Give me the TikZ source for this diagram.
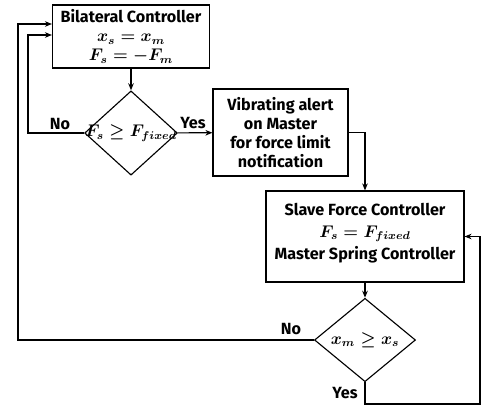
\documentclass[tikz,border=0pt]{standalone}
\usepackage{fontspec}
\setmainfont{Fira Sans}
\usetikzlibrary{shapes.geometric,arrows.meta}
\tikzset{
  block/.style={draw, thick, align=center, font=\bfseries\boldmath\fontsize{11.5}{13.5}\selectfont, inner sep=2pt},
  decision/.style={draw, thick, diamond, inner sep=0pt, font=\boldmath\fontsize{12}{14}\selectfont},
  arr/.style={thick, -{Stealth[length=5pt,width=4pt]}},
  lbl/.style={font=\bfseries\fontsize{11.5}{13.5}\selectfont}
}
\begin{document}
\begin{tikzpicture}[x=0.025cm, y=-0.025cm]
\useasboundingbox (0,0) rectangle (483,410);
% boxes
\node[block, minimum width=3.925cm, minimum height=1.575cm] (bil) at (131,36.5) {Bilateral Controller\\ $x_s=x_m$\\ $F_s=-F_m$};
\node[decision, inner xsep=-6pt, shape aspect=1.1, minimum width=2.225cm, minimum height=2cm] (d1) at (131,133) {$F_s\geq F_{fixed}$};
\node[block, minimum width=3.375cm, minimum height=2.175cm] (vib) at (280.5,132.5) {Vibrating alert\\ on Master\\ for force limit\\ notification};
\node[block, minimum width=4.95cm, minimum height=2.275cm] (sl) at (365,236.5) {Slave Force Controller\\[2pt] $F_s=F_{fixed}$\\[2pt] Master Spring Controller\\[-6pt] \mbox{}};
\node[decision, minimum width=2.525cm, minimum height=1.9cm] (d2) at (365,340) {$x_m\geq x_s$};
% corner points
\coordinate (c1) at (28,35);
\coordinate (c2) at (18,24);
\coordinate (c3) at (480,404);
% connectors
\draw[arr] (bil) -- (d1);
\draw[arr] (d1) -- (vib);
\draw[arr] (d1.west) -| (c1) -- (c1 -| bil.west);
\draw[arr] (vib.east) -| (sl.north);
\draw[arr] (sl) -- (d2);
\draw[arr] (d2.west) -| (c2) -- (c2 -| bil.west);
\draw[arr] (d2.south) |- (c3) |- (sl.east);
% labels
\node[lbl] (no1) at (60,124) {No};
\node[lbl] (yes1) at (193,123) {Yes};
\node[lbl] (no2) at (291,329) {No};
\node[lbl] (yes2) at (345,393) {Yes};
\end{tikzpicture}
\end{document}
